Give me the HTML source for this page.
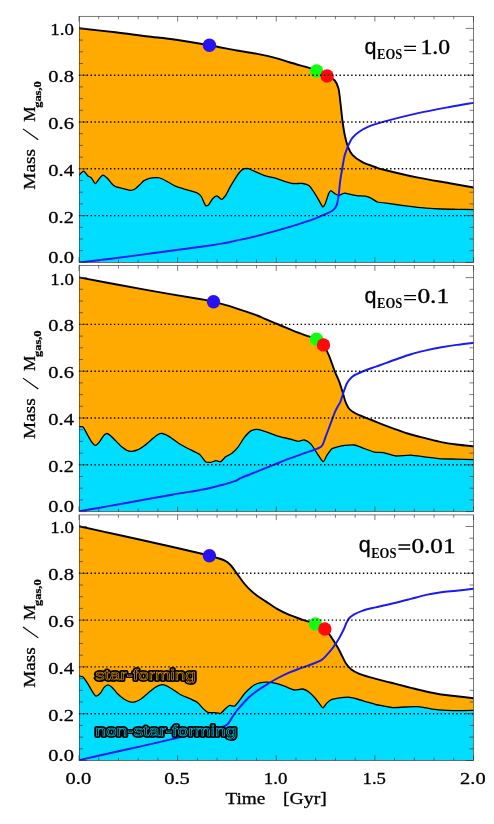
<!DOCTYPE html>
<html><head><meta charset="utf-8"><title>fig</title>
<style>
html,body{margin:0;padding:0;background:#fff;}
body{width:494px;height:824px;position:relative;overflow:hidden;font-family:"Liberation Serif",serif;}
text{font-family:"Liberation Serif",serif;fill:#000;}
.t{font-size:17.4px;stroke:#000;stroke-width:0.3px;}
.sb{font-size:9.8px;font-weight:bold;stroke:#000;stroke-width:0.25px;}
.q{font-size:21.5px;font-family:"Liberation Sans",sans-serif;stroke:#000;stroke-width:0.3px;}
.eos{font-size:14px;font-weight:bold;}
.qn{font-size:21px;stroke:#000;stroke-width:0.35px;}
.rl{font-family:"Liberation Sans",sans-serif;font-size:15.5px;stroke-linejoin:round;stroke-linecap:round;}
</style></head><body>
<svg width="494" height="824" viewBox="0 0 494 824" style="position:absolute;left:0;top:0;will-change:transform">
<rect x="0" y="0" width="494" height="824" fill="#fff"/>
<defs><clipPath id="c0"><rect x="79.00" y="16.30" width="394.50" height="246.10"/></clipPath></defs>
<g clip-path="url(#c0)">
<path d="M79.00 28.30 C85.08 28.97 104.33 30.98 115.50 32.30 C126.67 33.62 135.92 34.97 146.00 36.20 C156.08 37.43 165.43 38.20 176.00 39.70 C186.57 41.20 199.23 43.40 209.40 45.20 C219.57 47.00 229.03 49.05 237.00 50.50 C244.97 51.95 250.87 52.68 257.20 53.90 C263.53 55.12 269.50 56.37 275.00 57.80 C280.50 59.23 284.28 60.75 290.20 62.50 C296.12 64.25 306.10 66.95 310.50 68.30 C314.90 69.65 313.83 69.32 316.60 70.60 C319.37 71.88 324.07 74.35 327.10 76.00 C330.13 77.65 332.90 78.40 334.80 80.50 C336.70 82.60 337.60 85.23 338.50 88.60 C339.40 91.97 339.53 95.30 340.20 100.70 C340.87 106.10 341.73 115.23 342.50 121.00 C343.27 126.77 343.90 131.02 344.80 135.30 C345.70 139.58 346.63 143.45 347.90 146.70 C349.17 149.95 350.05 152.27 352.40 154.80 C354.75 157.33 358.23 159.87 362.00 161.90 C365.77 163.93 371.20 165.65 375.00 167.00 C378.80 168.35 377.80 168.27 384.80 170.00 C391.80 171.73 406.22 175.20 417.00 177.40 C427.78 179.60 440.08 181.52 449.50 183.20 C458.92 184.88 469.50 186.78 473.50 187.50 L473.50 262.40 L79.00 262.40 Z" fill="#FFAA00"/>
<path d="M79.00 175.10 C79.47 174.71 82.80 171.11 83.70 171.20 C84.60 171.29 87.25 175.35 88.00 176.00 C88.75 176.65 90.46 176.95 91.20 177.70 C91.94 178.45 94.59 183.41 95.40 183.50 C96.21 183.59 98.56 179.44 99.30 178.60 C100.04 177.76 101.99 175.13 102.80 175.10 C103.61 175.07 106.52 177.46 107.40 178.30 C108.28 179.14 110.79 182.66 111.60 183.50 C112.41 184.34 114.30 186.18 115.50 186.70 C116.70 187.22 122.08 188.34 123.60 188.70 C125.12 189.06 129.57 190.27 130.70 190.30 C131.83 190.33 133.99 189.55 134.90 189.00 C135.81 188.45 138.92 185.61 139.80 184.80 C140.68 183.99 142.73 181.55 143.70 180.90 C144.67 180.25 148.11 178.62 149.50 178.30 C150.89 177.98 156.31 177.63 157.60 177.70 C158.89 177.77 161.27 178.52 162.40 179.00 C163.53 179.48 167.60 181.79 168.90 182.50 C170.20 183.21 173.78 185.42 175.40 186.10 C177.02 186.78 182.99 188.65 185.10 189.30 C187.21 189.95 194.88 191.88 196.50 192.60 C198.12 193.32 200.40 195.21 201.30 196.50 C202.20 197.79 204.75 204.69 205.50 205.50 C206.25 206.31 208.09 205.28 208.80 204.60 C209.51 203.92 211.79 199.58 212.60 198.70 C213.41 197.82 216.02 195.73 216.90 195.80 C217.78 195.87 220.53 199.43 221.40 199.40 C222.27 199.37 224.75 196.70 225.60 195.50 C226.45 194.30 228.99 189.02 229.90 187.40 C230.81 185.78 233.73 180.82 234.70 179.30 C235.67 177.78 238.69 173.24 239.60 172.20 C240.51 171.16 242.93 169.26 243.80 168.90 C244.67 168.54 247.27 168.37 248.30 168.60 C249.33 168.83 252.55 170.52 254.10 171.20 C255.65 171.88 261.86 174.75 263.80 175.40 C265.74 176.05 271.55 177.15 273.50 177.70 C275.45 178.25 281.35 180.32 283.30 180.90 C285.25 181.48 291.06 183.24 293.00 183.50 C294.94 183.76 301.08 183.27 302.70 183.50 C304.32 183.73 308.07 184.93 309.20 185.80 C310.33 186.67 313.03 190.75 314.00 192.20 C314.97 193.65 318.03 198.84 318.90 200.30 C319.77 201.76 322.06 206.48 322.70 206.80 C323.34 207.12 324.71 204.80 325.30 203.50 C325.89 202.20 328.05 195.09 328.60 193.80 C329.15 192.51 330.16 190.60 330.80 190.60 C331.44 190.60 334.19 193.31 335.00 193.80 C335.81 194.29 337.96 195.57 338.90 195.50 C339.84 195.43 343.17 193.19 344.40 193.10 C345.63 193.01 349.87 194.33 351.20 194.60 C352.53 194.87 356.28 195.64 357.70 195.80 C359.12 195.96 364.02 195.94 365.40 196.20 C366.78 196.46 370.29 197.82 371.50 198.40 C372.71 198.98 375.68 201.48 377.50 202.00 C379.32 202.52 387.27 203.26 389.70 203.60 C392.13 203.94 399.37 205.07 401.80 205.40 C404.23 205.73 411.57 206.63 414.00 206.90 C416.43 207.17 423.37 207.89 426.10 208.10 C428.83 208.31 438.26 208.88 441.30 209.00 C444.34 209.12 453.28 209.24 456.50 209.30 C459.72 209.36 471.80 209.57 473.50 209.60 L473.50 262.40 L79.00 262.40 Z" fill="#00DDFF"/>
</g>
<g clip-path="url(#c0)" fill="none" stroke-linejoin="round" stroke-linecap="round">
<path d="M79.00 175.10 C79.47 174.71 82.80 171.11 83.70 171.20 C84.60 171.29 87.25 175.35 88.00 176.00 C88.75 176.65 90.46 176.95 91.20 177.70 C91.94 178.45 94.59 183.41 95.40 183.50 C96.21 183.59 98.56 179.44 99.30 178.60 C100.04 177.76 101.99 175.13 102.80 175.10 C103.61 175.07 106.52 177.46 107.40 178.30 C108.28 179.14 110.79 182.66 111.60 183.50 C112.41 184.34 114.30 186.18 115.50 186.70 C116.70 187.22 122.08 188.34 123.60 188.70 C125.12 189.06 129.57 190.27 130.70 190.30 C131.83 190.33 133.99 189.55 134.90 189.00 C135.81 188.45 138.92 185.61 139.80 184.80 C140.68 183.99 142.73 181.55 143.70 180.90 C144.67 180.25 148.11 178.62 149.50 178.30 C150.89 177.98 156.31 177.63 157.60 177.70 C158.89 177.77 161.27 178.52 162.40 179.00 C163.53 179.48 167.60 181.79 168.90 182.50 C170.20 183.21 173.78 185.42 175.40 186.10 C177.02 186.78 182.99 188.65 185.10 189.30 C187.21 189.95 194.88 191.88 196.50 192.60 C198.12 193.32 200.40 195.21 201.30 196.50 C202.20 197.79 204.75 204.69 205.50 205.50 C206.25 206.31 208.09 205.28 208.80 204.60 C209.51 203.92 211.79 199.58 212.60 198.70 C213.41 197.82 216.02 195.73 216.90 195.80 C217.78 195.87 220.53 199.43 221.40 199.40 C222.27 199.37 224.75 196.70 225.60 195.50 C226.45 194.30 228.99 189.02 229.90 187.40 C230.81 185.78 233.73 180.82 234.70 179.30 C235.67 177.78 238.69 173.24 239.60 172.20 C240.51 171.16 242.93 169.26 243.80 168.90 C244.67 168.54 247.27 168.37 248.30 168.60 C249.33 168.83 252.55 170.52 254.10 171.20 C255.65 171.88 261.86 174.75 263.80 175.40 C265.74 176.05 271.55 177.15 273.50 177.70 C275.45 178.25 281.35 180.32 283.30 180.90 C285.25 181.48 291.06 183.24 293.00 183.50 C294.94 183.76 301.08 183.27 302.70 183.50 C304.32 183.73 308.07 184.93 309.20 185.80 C310.33 186.67 313.03 190.75 314.00 192.20 C314.97 193.65 318.03 198.84 318.90 200.30 C319.77 201.76 322.06 206.48 322.70 206.80 C323.34 207.12 324.71 204.80 325.30 203.50 C325.89 202.20 328.05 195.09 328.60 193.80 C329.15 192.51 330.16 190.60 330.80 190.60 C331.44 190.60 334.19 193.31 335.00 193.80 C335.81 194.29 337.96 195.57 338.90 195.50 C339.84 195.43 343.17 193.19 344.40 193.10 C345.63 193.01 349.87 194.33 351.20 194.60 C352.53 194.87 356.28 195.64 357.70 195.80 C359.12 195.96 364.02 195.94 365.40 196.20 C366.78 196.46 370.29 197.82 371.50 198.40 C372.71 198.98 375.68 201.48 377.50 202.00 C379.32 202.52 387.27 203.26 389.70 203.60 C392.13 203.94 399.37 205.07 401.80 205.40 C404.23 205.73 411.57 206.63 414.00 206.90 C416.43 207.17 423.37 207.89 426.10 208.10 C428.83 208.31 438.26 208.88 441.30 209.00 C444.34 209.12 453.28 209.24 456.50 209.30 C459.72 209.36 471.80 209.57 473.50 209.60" stroke="#000" stroke-width="1.3"/>
<path d="M79.00 28.30 C85.08 28.97 104.33 30.98 115.50 32.30 C126.67 33.62 135.92 34.97 146.00 36.20 C156.08 37.43 165.43 38.20 176.00 39.70 C186.57 41.20 199.23 43.40 209.40 45.20 C219.57 47.00 229.03 49.05 237.00 50.50 C244.97 51.95 250.87 52.68 257.20 53.90 C263.53 55.12 269.50 56.37 275.00 57.80 C280.50 59.23 284.28 60.75 290.20 62.50 C296.12 64.25 306.10 66.95 310.50 68.30 C314.90 69.65 313.83 69.32 316.60 70.60 C319.37 71.88 324.07 74.35 327.10 76.00 C330.13 77.65 332.90 78.40 334.80 80.50 C336.70 82.60 337.60 85.23 338.50 88.60 C339.40 91.97 339.53 95.30 340.20 100.70 C340.87 106.10 341.73 115.23 342.50 121.00 C343.27 126.77 343.90 131.02 344.80 135.30 C345.70 139.58 346.63 143.45 347.90 146.70 C349.17 149.95 350.05 152.27 352.40 154.80 C354.75 157.33 358.23 159.87 362.00 161.90 C365.77 163.93 371.20 165.65 375.00 167.00 C378.80 168.35 377.80 168.27 384.80 170.00 C391.80 171.73 406.22 175.20 417.00 177.40 C427.78 179.60 440.08 181.52 449.50 183.20 C458.92 184.88 469.50 186.78 473.50 187.50" stroke="#000" stroke-width="1.9"/>
<path d="M79.00 262.50 C83.67 261.95 94.17 260.82 107.00 259.20 C119.83 257.58 139.75 254.95 156.00 252.80 C172.25 250.65 193.00 247.93 204.50 246.30 C216.00 244.67 219.92 243.90 225.00 243.00 C230.08 242.10 229.60 242.08 235.00 240.90 C240.40 239.72 248.27 238.23 257.40 235.90 C266.53 233.57 280.63 229.60 289.80 226.90 C298.97 224.20 306.48 221.82 312.40 219.70 C318.32 217.58 321.80 215.82 325.30 214.20 C328.80 212.58 331.50 211.50 333.40 210.00 C335.30 208.50 335.83 207.62 336.70 205.20 C337.57 202.78 338.02 199.53 338.60 195.50 C339.18 191.47 339.58 185.58 340.20 181.00 C340.82 176.42 341.58 172.17 342.30 168.00 C343.02 163.83 343.88 158.75 344.50 156.00 C345.12 153.25 345.33 153.33 346.00 151.50 C346.67 149.67 347.43 147.27 348.50 145.00 C349.57 142.73 350.68 140.07 352.40 137.90 C354.12 135.73 356.12 133.88 358.80 132.00 C361.48 130.12 364.17 128.37 368.50 126.60 C372.83 124.83 376.72 123.60 384.80 121.40 C392.88 119.20 406.22 115.80 417.00 113.40 C427.78 111.00 440.08 108.75 449.50 107.00 C458.92 105.25 469.50 103.58 473.50 102.90" stroke="#1a1af4" stroke-width="1.95"/>
</g>
<circle cx="209.40" cy="45.20" r="6.7" fill="#2810f0"/>
<circle cx="316.60" cy="71.00" r="6.7" fill="#10ff10"/>
<circle cx="327.10" cy="76.00" r="6.7" fill="#ff0a0a"/>
<line x1="78.90" y1="215.60" x2="473.50" y2="215.60" stroke="#000" stroke-width="1.4" stroke-dasharray="1.4 2.49"/>
<line x1="78.90" y1="168.80" x2="473.50" y2="168.80" stroke="#000" stroke-width="1.4" stroke-dasharray="1.4 2.49"/>
<line x1="78.90" y1="122.00" x2="473.50" y2="122.00" stroke="#000" stroke-width="1.4" stroke-dasharray="1.4 2.49"/>
<line x1="78.90" y1="75.20" x2="473.50" y2="75.20" stroke="#000" stroke-width="1.4" stroke-dasharray="1.4 2.49"/>
<rect x="79.30" y="16.30" width="394.20" height="246.10" fill="none" stroke="#333" stroke-width="0.65"/>
<path d="M79.00 16.30 v5.20 M79.00 262.40 v-5.20 M98.72 16.30 v2.90 M98.72 262.40 v-2.90 M118.45 16.30 v2.90 M118.45 262.40 v-2.90 M138.18 16.30 v2.90 M138.18 262.40 v-2.90 M157.90 16.30 v2.90 M157.90 262.40 v-2.90 M177.62 16.30 v5.20 M177.62 262.40 v-5.20 M197.35 16.30 v2.90 M197.35 262.40 v-2.90 M217.07 16.30 v2.90 M217.07 262.40 v-2.90 M236.80 16.30 v2.90 M236.80 262.40 v-2.90 M256.52 16.30 v2.90 M256.52 262.40 v-2.90 M276.25 16.30 v5.20 M276.25 262.40 v-5.20 M295.98 16.30 v2.90 M295.98 262.40 v-2.90 M315.70 16.30 v2.90 M315.70 262.40 v-2.90 M335.43 16.30 v2.90 M335.43 262.40 v-2.90 M355.15 16.30 v2.90 M355.15 262.40 v-2.90 M374.88 16.30 v5.20 M374.88 262.40 v-5.20 M394.60 16.30 v2.90 M394.60 262.40 v-2.90 M414.32 16.30 v2.90 M414.32 262.40 v-2.90 M434.05 16.30 v2.90 M434.05 262.40 v-2.90 M453.77 16.30 v2.90 M453.77 262.40 v-2.90 M473.50 16.30 v5.20 M473.50 262.40 v-5.20 M79.00 262.40 h7.90 M473.50 262.40 h-7.90 M79.00 250.70 h4.00 M473.50 250.70 h-4.00 M79.00 239.00 h4.00 M473.50 239.00 h-4.00 M79.00 227.30 h4.00 M473.50 227.30 h-4.00 M79.00 215.60 h7.90 M473.50 215.60 h-7.90 M79.00 203.90 h4.00 M473.50 203.90 h-4.00 M79.00 192.20 h4.00 M473.50 192.20 h-4.00 M79.00 180.50 h4.00 M473.50 180.50 h-4.00 M79.00 168.80 h7.90 M473.50 168.80 h-7.90 M79.00 157.10 h4.00 M473.50 157.10 h-4.00 M79.00 145.40 h4.00 M473.50 145.40 h-4.00 M79.00 133.70 h4.00 M473.50 133.70 h-4.00 M79.00 122.00 h7.90 M473.50 122.00 h-7.90 M79.00 110.30 h4.00 M473.50 110.30 h-4.00 M79.00 98.60 h4.00 M473.50 98.60 h-4.00 M79.00 86.90 h4.00 M473.50 86.90 h-4.00 M79.00 75.20 h7.90 M473.50 75.20 h-7.90 M79.00 63.50 h4.00 M473.50 63.50 h-4.00 M79.00 51.80 h4.00 M473.50 51.80 h-4.00 M79.00 40.10 h4.00 M473.50 40.10 h-4.00 M79.00 28.40 h7.90 M473.50 28.40 h-7.90" stroke="#333" stroke-width="0.65" fill="none"/>
<text x="48.30" y="262.70" textLength="25.6" lengthAdjust="spacingAndGlyphs" class="t">0.0</text>
<text x="48.30" y="222.50" textLength="25.6" lengthAdjust="spacingAndGlyphs" class="t">0.2</text>
<text x="48.30" y="175.70" textLength="25.6" lengthAdjust="spacingAndGlyphs" class="t">0.4</text>
<text x="48.30" y="128.90" textLength="25.6" lengthAdjust="spacingAndGlyphs" class="t">0.6</text>
<text x="48.30" y="82.10" textLength="25.6" lengthAdjust="spacingAndGlyphs" class="t">0.8</text>
<text x="50.30" y="35.30" textLength="23.6" lengthAdjust="spacingAndGlyphs" class="t">1.0</text>
<g transform="translate(35,189.40) rotate(-90)">
<text x="-0.3" y="0" class="t" textLength="40.6" lengthAdjust="spacingAndGlyphs">Mass</text>
<line x1="49.6" y1="3.3" x2="60.5" y2="-12" stroke="#000" stroke-width="1.15"/>
<text x="67.6" y="0" class="t" textLength="15.2" lengthAdjust="spacingAndGlyphs">M</text>
<text x="81.6" y="5.6" class="sb" textLength="26.6" lengthAdjust="spacingAndGlyphs">gas,0</text>
</g>
<text x="364.60" y="53.80" class="q">q</text>
<text x="377.00" y="59.00" class="eos" textLength="25.3" lengthAdjust="spacingAndGlyphs">EOS</text>
<path d="M404.20 46.40 h11.8 M404.20 50.40 h11.8" stroke="#000" stroke-width="1.3" fill="none"/>
<text x="420.40" y="54.10" class="qn" textLength="29.6" lengthAdjust="spacingAndGlyphs">1.0</text>
<defs><clipPath id="c1"><rect x="79.00" y="265.60" width="394.50" height="246.00"/></clipPath></defs>
<g clip-path="url(#c1)">
<path d="M79.00 277.40 C85.08 278.55 102.67 281.93 115.50 284.30 C128.33 286.67 142.50 289.23 156.00 291.60 C169.50 293.97 186.92 296.82 196.50 298.50 C206.08 300.18 206.75 300.02 213.50 301.70 C220.25 303.38 229.72 306.30 237.00 308.60 C244.28 310.90 252.53 313.78 257.20 315.50 C261.87 317.22 261.27 317.32 265.00 318.90 C268.73 320.48 274.75 322.97 279.60 325.00 C284.45 327.03 289.25 329.20 294.10 331.10 C298.95 333.00 304.97 335.03 308.70 336.40 C312.43 337.77 314.03 337.88 316.50 339.30 C318.97 340.72 321.48 342.33 323.50 344.90 C325.52 347.47 327.22 351.65 328.60 354.70 C329.98 357.75 330.67 360.17 331.80 363.20 C332.93 366.23 334.18 369.87 335.40 372.90 C336.62 375.93 337.88 378.17 339.10 381.40 C340.32 384.63 341.55 388.67 342.70 392.30 C343.85 395.93 344.78 400.32 346.00 403.20 C347.22 406.08 347.78 407.60 350.00 409.60 C352.22 411.60 355.72 413.47 359.30 415.20 C362.88 416.93 367.45 418.40 371.50 420.00 C375.55 421.60 379.57 423.25 383.60 424.80 C387.63 426.35 391.15 427.68 395.70 429.30 C400.25 430.92 405.83 432.98 410.90 434.50 C415.97 436.02 421.03 437.13 426.10 438.40 C431.17 439.67 436.23 441.08 441.30 442.10 C446.37 443.12 451.13 443.80 456.50 444.50 C461.87 445.20 470.67 446.00 473.50 446.30 L473.50 511.60 L79.00 511.60 Z" fill="#FFAA00"/>
<path d="M79.00 426.70 C79.41 426.73 82.20 426.09 83.10 427.00 C84.00 427.91 87.13 434.28 88.00 435.80 C88.87 437.32 91.06 441.23 91.80 442.20 C92.54 443.17 94.65 445.50 95.40 445.50 C96.15 445.50 98.49 443.17 99.30 442.20 C100.11 441.23 102.76 436.67 103.50 435.80 C104.24 434.93 105.99 433.50 106.70 433.50 C107.41 433.50 109.72 435.09 110.60 435.80 C111.48 436.51 114.36 439.47 115.50 440.60 C116.64 441.73 120.87 446.13 122.00 447.10 C123.13 448.07 125.83 449.88 126.80 450.30 C127.77 450.72 130.57 451.36 131.70 451.30 C132.83 451.24 136.81 450.28 138.10 449.70 C139.39 449.12 143.30 446.47 144.60 445.50 C145.90 444.53 149.80 441.07 151.10 440.00 C152.40 438.93 156.47 435.45 157.60 434.80 C158.73 434.15 161.27 433.34 162.40 433.50 C163.53 433.66 167.28 435.43 168.90 436.40 C170.52 437.37 176.65 441.97 178.60 443.20 C180.55 444.43 186.29 447.57 188.40 448.70 C190.51 449.83 197.99 453.20 199.70 454.50 C201.41 455.80 204.37 460.92 205.50 461.70 C206.63 462.48 209.96 462.40 211.00 462.30 C212.04 462.20 214.93 460.76 215.90 460.70 C216.87 460.64 219.73 462.09 220.70 461.70 C221.67 461.31 224.52 457.61 225.60 456.80 C226.68 455.99 230.26 454.57 231.50 453.60 C232.74 452.63 236.71 448.72 238.00 447.10 C239.29 445.48 243.11 439.02 244.40 437.40 C245.69 435.78 249.60 431.71 250.90 430.90 C252.20 430.09 255.94 429.23 257.40 429.30 C258.86 429.37 263.56 430.95 265.50 431.60 C267.44 432.25 274.37 435.06 276.80 435.80 C279.23 436.54 287.69 438.45 289.80 439.00 C291.91 439.55 296.44 441.20 297.90 441.30 C299.36 441.40 303.11 439.74 304.40 440.00 C305.69 440.26 309.51 442.54 310.80 443.90 C312.09 445.26 316.07 451.82 317.30 453.60 C318.53 455.38 322.13 461.54 323.10 461.70 C324.07 461.86 326.12 456.50 327.00 455.20 C327.88 453.90 330.93 449.51 331.90 448.70 C332.87 447.89 335.41 447.43 336.70 447.10 C337.99 446.77 343.02 445.61 344.80 445.40 C346.58 445.19 352.75 444.76 354.50 445.00 C356.25 445.24 360.32 447.09 362.30 447.80 C364.28 448.51 372.17 451.61 374.30 452.10 C376.43 452.59 381.46 452.31 383.60 452.70 C385.74 453.09 392.97 455.76 395.70 456.00 C398.43 456.24 407.86 454.98 410.90 455.10 C413.94 455.22 423.06 456.83 426.10 457.20 C429.14 457.57 438.26 458.61 441.30 458.80 C444.34 458.99 453.28 459.01 456.50 459.10 C459.72 459.19 471.80 459.64 473.50 459.70 L473.50 511.60 L79.00 511.60 Z" fill="#00DDFF"/>
</g>
<g clip-path="url(#c1)" fill="none" stroke-linejoin="round" stroke-linecap="round">
<path d="M79.00 426.70 C79.41 426.73 82.20 426.09 83.10 427.00 C84.00 427.91 87.13 434.28 88.00 435.80 C88.87 437.32 91.06 441.23 91.80 442.20 C92.54 443.17 94.65 445.50 95.40 445.50 C96.15 445.50 98.49 443.17 99.30 442.20 C100.11 441.23 102.76 436.67 103.50 435.80 C104.24 434.93 105.99 433.50 106.70 433.50 C107.41 433.50 109.72 435.09 110.60 435.80 C111.48 436.51 114.36 439.47 115.50 440.60 C116.64 441.73 120.87 446.13 122.00 447.10 C123.13 448.07 125.83 449.88 126.80 450.30 C127.77 450.72 130.57 451.36 131.70 451.30 C132.83 451.24 136.81 450.28 138.10 449.70 C139.39 449.12 143.30 446.47 144.60 445.50 C145.90 444.53 149.80 441.07 151.10 440.00 C152.40 438.93 156.47 435.45 157.60 434.80 C158.73 434.15 161.27 433.34 162.40 433.50 C163.53 433.66 167.28 435.43 168.90 436.40 C170.52 437.37 176.65 441.97 178.60 443.20 C180.55 444.43 186.29 447.57 188.40 448.70 C190.51 449.83 197.99 453.20 199.70 454.50 C201.41 455.80 204.37 460.92 205.50 461.70 C206.63 462.48 209.96 462.40 211.00 462.30 C212.04 462.20 214.93 460.76 215.90 460.70 C216.87 460.64 219.73 462.09 220.70 461.70 C221.67 461.31 224.52 457.61 225.60 456.80 C226.68 455.99 230.26 454.57 231.50 453.60 C232.74 452.63 236.71 448.72 238.00 447.10 C239.29 445.48 243.11 439.02 244.40 437.40 C245.69 435.78 249.60 431.71 250.90 430.90 C252.20 430.09 255.94 429.23 257.40 429.30 C258.86 429.37 263.56 430.95 265.50 431.60 C267.44 432.25 274.37 435.06 276.80 435.80 C279.23 436.54 287.69 438.45 289.80 439.00 C291.91 439.55 296.44 441.20 297.90 441.30 C299.36 441.40 303.11 439.74 304.40 440.00 C305.69 440.26 309.51 442.54 310.80 443.90 C312.09 445.26 316.07 451.82 317.30 453.60 C318.53 455.38 322.13 461.54 323.10 461.70 C324.07 461.86 326.12 456.50 327.00 455.20 C327.88 453.90 330.93 449.51 331.90 448.70 C332.87 447.89 335.41 447.43 336.70 447.10 C337.99 446.77 343.02 445.61 344.80 445.40 C346.58 445.19 352.75 444.76 354.50 445.00 C356.25 445.24 360.32 447.09 362.30 447.80 C364.28 448.51 372.17 451.61 374.30 452.10 C376.43 452.59 381.46 452.31 383.60 452.70 C385.74 453.09 392.97 455.76 395.70 456.00 C398.43 456.24 407.86 454.98 410.90 455.10 C413.94 455.22 423.06 456.83 426.10 457.20 C429.14 457.57 438.26 458.61 441.30 458.80 C444.34 458.99 453.28 459.01 456.50 459.10 C459.72 459.19 471.80 459.64 473.50 459.70" stroke="#000" stroke-width="1.3"/>
<path d="M79.00 277.40 C85.08 278.55 102.67 281.93 115.50 284.30 C128.33 286.67 142.50 289.23 156.00 291.60 C169.50 293.97 186.92 296.82 196.50 298.50 C206.08 300.18 206.75 300.02 213.50 301.70 C220.25 303.38 229.72 306.30 237.00 308.60 C244.28 310.90 252.53 313.78 257.20 315.50 C261.87 317.22 261.27 317.32 265.00 318.90 C268.73 320.48 274.75 322.97 279.60 325.00 C284.45 327.03 289.25 329.20 294.10 331.10 C298.95 333.00 304.97 335.03 308.70 336.40 C312.43 337.77 314.03 337.88 316.50 339.30 C318.97 340.72 321.48 342.33 323.50 344.90 C325.52 347.47 327.22 351.65 328.60 354.70 C329.98 357.75 330.67 360.17 331.80 363.20 C332.93 366.23 334.18 369.87 335.40 372.90 C336.62 375.93 337.88 378.17 339.10 381.40 C340.32 384.63 341.55 388.67 342.70 392.30 C343.85 395.93 344.78 400.32 346.00 403.20 C347.22 406.08 347.78 407.60 350.00 409.60 C352.22 411.60 355.72 413.47 359.30 415.20 C362.88 416.93 367.45 418.40 371.50 420.00 C375.55 421.60 379.57 423.25 383.60 424.80 C387.63 426.35 391.15 427.68 395.70 429.30 C400.25 430.92 405.83 432.98 410.90 434.50 C415.97 436.02 421.03 437.13 426.10 438.40 C431.17 439.67 436.23 441.08 441.30 442.10 C446.37 443.12 451.13 443.80 456.50 444.50 C461.87 445.20 470.67 446.00 473.50 446.30" stroke="#000" stroke-width="1.9"/>
<path d="M79.00 511.20 C83.73 510.40 97.27 508.18 107.40 506.40 C117.53 504.62 129.00 502.45 139.80 500.50 C150.60 498.55 161.42 496.58 172.20 494.70 C182.98 492.82 196.42 490.77 204.50 489.20 C212.58 487.63 215.62 486.65 220.70 485.30 C225.78 483.95 231.58 482.33 235.00 481.10 C238.42 479.87 237.47 479.52 241.20 477.90 C244.93 476.28 252.00 473.57 257.40 471.40 C262.80 469.23 268.20 467.07 273.60 464.90 C279.00 462.73 284.40 460.45 289.80 458.40 C295.20 456.35 301.42 454.22 306.00 452.60 C310.58 450.98 314.60 449.88 317.30 448.70 C320.00 447.52 320.85 447.38 322.20 445.50 C323.55 443.62 324.05 440.92 325.40 437.40 C326.75 433.88 328.78 428.45 330.30 424.40 C331.82 420.35 333.22 416.17 334.50 413.10 C335.78 410.03 337.03 407.85 338.00 406.00 C338.97 404.15 339.43 404.12 340.30 402.00 C341.17 399.88 342.15 396.30 343.20 393.30 C344.25 390.30 345.55 386.28 346.60 384.00 C347.65 381.72 348.35 380.97 349.50 379.60 C350.65 378.23 351.38 377.12 353.50 375.80 C355.62 374.48 359.13 373.00 362.20 371.70 C365.27 370.40 368.83 369.12 371.90 368.00 C374.97 366.88 376.63 366.42 380.60 365.00 C384.57 363.58 390.65 361.28 395.70 359.50 C400.75 357.72 405.83 355.82 410.90 354.30 C415.97 352.78 421.03 351.57 426.10 350.40 C431.17 349.23 436.23 348.22 441.30 347.30 C446.37 346.38 451.13 345.65 456.50 344.90 C461.87 344.15 470.67 343.15 473.50 342.80" stroke="#1a1af4" stroke-width="1.95"/>
</g>
<circle cx="213.50" cy="301.70" r="6.7" fill="#2810f0"/>
<circle cx="316.50" cy="339.30" r="6.7" fill="#10ff10"/>
<circle cx="323.50" cy="344.90" r="6.7" fill="#ff0a0a"/>
<line x1="78.90" y1="464.80" x2="473.50" y2="464.80" stroke="#000" stroke-width="1.4" stroke-dasharray="1.4 2.49"/>
<line x1="78.90" y1="418.00" x2="473.50" y2="418.00" stroke="#000" stroke-width="1.4" stroke-dasharray="1.4 2.49"/>
<line x1="78.90" y1="371.20" x2="473.50" y2="371.20" stroke="#000" stroke-width="1.4" stroke-dasharray="1.4 2.49"/>
<line x1="78.90" y1="324.40" x2="473.50" y2="324.40" stroke="#000" stroke-width="1.4" stroke-dasharray="1.4 2.49"/>
<rect x="79.30" y="265.60" width="394.20" height="246.00" fill="none" stroke="#333" stroke-width="0.65"/>
<path d="M79.00 265.60 v5.20 M79.00 511.60 v-5.20 M98.72 265.60 v2.90 M98.72 511.60 v-2.90 M118.45 265.60 v2.90 M118.45 511.60 v-2.90 M138.18 265.60 v2.90 M138.18 511.60 v-2.90 M157.90 265.60 v2.90 M157.90 511.60 v-2.90 M177.62 265.60 v5.20 M177.62 511.60 v-5.20 M197.35 265.60 v2.90 M197.35 511.60 v-2.90 M217.07 265.60 v2.90 M217.07 511.60 v-2.90 M236.80 265.60 v2.90 M236.80 511.60 v-2.90 M256.52 265.60 v2.90 M256.52 511.60 v-2.90 M276.25 265.60 v5.20 M276.25 511.60 v-5.20 M295.98 265.60 v2.90 M295.98 511.60 v-2.90 M315.70 265.60 v2.90 M315.70 511.60 v-2.90 M335.43 265.60 v2.90 M335.43 511.60 v-2.90 M355.15 265.60 v2.90 M355.15 511.60 v-2.90 M374.88 265.60 v5.20 M374.88 511.60 v-5.20 M394.60 265.60 v2.90 M394.60 511.60 v-2.90 M414.32 265.60 v2.90 M414.32 511.60 v-2.90 M434.05 265.60 v2.90 M434.05 511.60 v-2.90 M453.77 265.60 v2.90 M453.77 511.60 v-2.90 M473.50 265.60 v5.20 M473.50 511.60 v-5.20 M79.00 511.60 h7.90 M473.50 511.60 h-7.90 M79.00 499.90 h4.00 M473.50 499.90 h-4.00 M79.00 488.20 h4.00 M473.50 488.20 h-4.00 M79.00 476.50 h4.00 M473.50 476.50 h-4.00 M79.00 464.80 h7.90 M473.50 464.80 h-7.90 M79.00 453.10 h4.00 M473.50 453.10 h-4.00 M79.00 441.40 h4.00 M473.50 441.40 h-4.00 M79.00 429.70 h4.00 M473.50 429.70 h-4.00 M79.00 418.00 h7.90 M473.50 418.00 h-7.90 M79.00 406.30 h4.00 M473.50 406.30 h-4.00 M79.00 394.60 h4.00 M473.50 394.60 h-4.00 M79.00 382.90 h4.00 M473.50 382.90 h-4.00 M79.00 371.20 h7.90 M473.50 371.20 h-7.90 M79.00 359.50 h4.00 M473.50 359.50 h-4.00 M79.00 347.80 h4.00 M473.50 347.80 h-4.00 M79.00 336.10 h4.00 M473.50 336.10 h-4.00 M79.00 324.40 h7.90 M473.50 324.40 h-7.90 M79.00 312.70 h4.00 M473.50 312.70 h-4.00 M79.00 301.00 h4.00 M473.50 301.00 h-4.00 M79.00 289.30 h4.00 M473.50 289.30 h-4.00 M79.00 277.60 h7.90 M473.50 277.60 h-7.90" stroke="#333" stroke-width="0.65" fill="none"/>
<text x="48.30" y="511.90" textLength="25.6" lengthAdjust="spacingAndGlyphs" class="t">0.0</text>
<text x="48.30" y="471.70" textLength="25.6" lengthAdjust="spacingAndGlyphs" class="t">0.2</text>
<text x="48.30" y="424.90" textLength="25.6" lengthAdjust="spacingAndGlyphs" class="t">0.4</text>
<text x="48.30" y="378.10" textLength="25.6" lengthAdjust="spacingAndGlyphs" class="t">0.6</text>
<text x="48.30" y="331.30" textLength="25.6" lengthAdjust="spacingAndGlyphs" class="t">0.8</text>
<text x="50.30" y="284.50" textLength="23.6" lengthAdjust="spacingAndGlyphs" class="t">1.0</text>
<g transform="translate(35,438.60) rotate(-90)">
<text x="-0.3" y="0" class="t" textLength="40.6" lengthAdjust="spacingAndGlyphs">Mass</text>
<line x1="49.6" y1="3.3" x2="60.5" y2="-12" stroke="#000" stroke-width="1.15"/>
<text x="67.6" y="0" class="t" textLength="15.2" lengthAdjust="spacingAndGlyphs">M</text>
<text x="81.6" y="5.6" class="sb" textLength="26.6" lengthAdjust="spacingAndGlyphs">gas,0</text>
</g>
<text x="364.60" y="303.10" class="q">q</text>
<text x="377.00" y="308.30" class="eos" textLength="25.3" lengthAdjust="spacingAndGlyphs">EOS</text>
<path d="M404.20 295.70 h11.8 M404.20 299.70 h11.8" stroke="#000" stroke-width="1.3" fill="none"/>
<text x="417.40" y="303.40" class="qn" textLength="31.8" lengthAdjust="spacingAndGlyphs">0.1</text>
<defs><clipPath id="c2"><rect x="79.00" y="514.90" width="394.50" height="245.60"/></clipPath></defs>
<g clip-path="url(#c2)">
<path d="M79.00 526.20 C85.08 527.55 102.67 531.47 115.50 534.30 C128.33 537.13 142.50 540.17 156.00 543.20 C169.50 546.23 187.60 550.42 196.50 552.50 C205.40 554.58 204.68 554.35 209.40 555.70 C214.12 557.05 221.22 558.97 224.80 560.60 C228.38 562.23 228.87 563.33 230.90 565.50 C232.93 567.67 234.98 570.85 237.00 573.60 C239.02 576.35 240.98 579.45 243.00 582.00 C245.02 584.55 246.73 586.60 249.10 588.90 C251.47 591.20 254.50 593.77 257.20 595.80 C259.90 597.83 261.98 598.92 265.30 601.10 C268.62 603.28 273.10 606.60 277.10 608.90 C281.10 611.20 285.25 613.17 289.30 614.90 C293.35 616.63 297.03 617.80 301.40 619.30 C305.77 620.80 311.60 622.28 315.50 623.90 C319.40 625.52 322.08 626.65 324.80 629.00 C327.52 631.35 329.62 634.88 331.80 638.00 C333.98 641.12 336.15 644.63 337.90 647.70 C339.65 650.77 340.95 653.77 342.30 656.40 C343.65 659.03 344.55 661.37 346.00 663.50 C347.45 665.63 348.78 667.48 351.00 669.20 C353.22 670.92 355.88 672.40 359.30 673.80 C362.72 675.20 367.45 676.42 371.50 677.60 C375.55 678.78 379.57 679.85 383.60 680.90 C387.63 681.95 391.15 682.75 395.70 683.90 C400.25 685.05 405.83 686.53 410.90 687.80 C415.97 689.07 421.03 690.38 426.10 691.50 C431.17 692.62 436.23 693.70 441.30 694.50 C446.37 695.30 451.13 695.68 456.50 696.30 C461.87 696.92 470.67 697.88 473.50 698.20 L473.50 760.50 L79.00 760.50 Z" fill="#FFAA00"/>
<path d="M79.00 676.00 C79.41 676.10 82.20 676.19 83.10 677.00 C84.00 677.81 87.03 682.58 88.00 684.10 C88.97 685.62 92.00 691.00 92.80 692.20 C93.60 693.40 95.25 696.00 96.00 696.10 C96.75 696.20 99.49 694.07 100.30 693.20 C101.11 692.33 103.33 688.24 104.10 687.40 C104.87 686.56 107.19 684.80 108.00 684.80 C108.81 684.80 111.29 686.56 112.20 687.40 C113.11 688.24 115.96 692.07 117.10 693.20 C118.24 694.33 122.31 697.83 123.60 698.70 C124.89 699.57 128.87 701.58 130.00 701.90 C131.13 702.22 133.76 702.22 134.90 701.90 C136.04 701.58 140.11 699.57 141.40 698.70 C142.69 697.83 146.51 694.27 147.80 693.20 C149.09 692.13 153.10 688.81 154.30 688.00 C155.50 687.19 158.73 685.39 159.80 685.10 C160.87 684.81 163.77 684.71 165.00 685.10 C166.23 685.49 170.58 688.06 172.10 689.00 C173.62 689.94 178.41 693.53 180.20 694.50 C181.99 695.47 188.22 697.86 190.00 698.70 C191.78 699.54 196.71 701.93 198.00 702.90 C199.29 703.87 201.92 707.46 202.90 708.40 C203.88 709.34 206.67 711.88 207.80 712.30 C208.93 712.72 212.91 712.50 214.20 712.60 C215.49 712.70 219.56 713.72 220.70 713.30 C221.84 712.88 224.68 709.19 225.60 708.40 C226.52 707.61 228.99 705.63 229.90 705.40 C230.81 705.17 233.73 706.61 234.70 706.10 C235.67 705.59 238.63 701.53 239.60 700.30 C240.57 699.07 243.27 695.09 244.40 693.80 C245.53 692.51 249.60 688.43 250.90 687.40 C252.20 686.37 255.94 684.02 257.40 683.50 C258.86 682.98 263.88 682.27 265.50 682.20 C267.12 682.13 271.98 682.51 273.60 682.80 C275.22 683.09 280.08 684.55 281.70 685.10 C283.32 685.65 288.51 687.81 289.80 688.30 C291.09 688.79 293.31 689.93 294.60 690.00 C295.89 690.07 301.24 688.78 302.70 689.00 C304.16 689.22 307.90 691.23 309.20 692.20 C310.50 693.17 314.57 697.40 315.70 698.70 C316.83 700.00 319.76 704.29 320.50 705.20 C321.24 706.11 322.45 708.03 323.10 707.80 C323.75 707.57 326.12 703.74 327.00 702.90 C327.88 702.06 330.77 699.88 331.90 699.40 C333.03 698.92 336.65 698.32 338.30 698.10 C339.95 697.88 346.53 697.11 348.40 697.20 C350.27 697.29 355.20 698.54 357.00 699.00 C358.80 699.46 364.55 701.25 366.40 701.80 C368.25 702.35 373.78 704.08 375.50 704.50 C377.22 704.92 381.88 705.69 383.60 706.00 C385.32 706.31 390.57 707.50 392.70 707.60 C394.83 707.70 402.47 707.09 404.90 707.00 C407.33 706.91 415.18 706.67 417.00 706.70 C418.82 706.73 421.58 707.06 423.10 707.30 C424.62 707.54 429.77 708.80 432.20 709.10 C434.63 709.40 444.67 710.15 447.40 710.30 C450.13 710.45 456.89 710.60 459.50 710.60 C462.11 710.60 472.10 710.33 473.50 710.30 L473.50 760.50 L79.00 760.50 Z" fill="#00DDFF"/>
</g>
<g clip-path="url(#c2)" fill="none" stroke-linejoin="round" stroke-linecap="round">
<path d="M79.00 676.00 C79.41 676.10 82.20 676.19 83.10 677.00 C84.00 677.81 87.03 682.58 88.00 684.10 C88.97 685.62 92.00 691.00 92.80 692.20 C93.60 693.40 95.25 696.00 96.00 696.10 C96.75 696.20 99.49 694.07 100.30 693.20 C101.11 692.33 103.33 688.24 104.10 687.40 C104.87 686.56 107.19 684.80 108.00 684.80 C108.81 684.80 111.29 686.56 112.20 687.40 C113.11 688.24 115.96 692.07 117.10 693.20 C118.24 694.33 122.31 697.83 123.60 698.70 C124.89 699.57 128.87 701.58 130.00 701.90 C131.13 702.22 133.76 702.22 134.90 701.90 C136.04 701.58 140.11 699.57 141.40 698.70 C142.69 697.83 146.51 694.27 147.80 693.20 C149.09 692.13 153.10 688.81 154.30 688.00 C155.50 687.19 158.73 685.39 159.80 685.10 C160.87 684.81 163.77 684.71 165.00 685.10 C166.23 685.49 170.58 688.06 172.10 689.00 C173.62 689.94 178.41 693.53 180.20 694.50 C181.99 695.47 188.22 697.86 190.00 698.70 C191.78 699.54 196.71 701.93 198.00 702.90 C199.29 703.87 201.92 707.46 202.90 708.40 C203.88 709.34 206.67 711.88 207.80 712.30 C208.93 712.72 212.91 712.50 214.20 712.60 C215.49 712.70 219.56 713.72 220.70 713.30 C221.84 712.88 224.68 709.19 225.60 708.40 C226.52 707.61 228.99 705.63 229.90 705.40 C230.81 705.17 233.73 706.61 234.70 706.10 C235.67 705.59 238.63 701.53 239.60 700.30 C240.57 699.07 243.27 695.09 244.40 693.80 C245.53 692.51 249.60 688.43 250.90 687.40 C252.20 686.37 255.94 684.02 257.40 683.50 C258.86 682.98 263.88 682.27 265.50 682.20 C267.12 682.13 271.98 682.51 273.60 682.80 C275.22 683.09 280.08 684.55 281.70 685.10 C283.32 685.65 288.51 687.81 289.80 688.30 C291.09 688.79 293.31 689.93 294.60 690.00 C295.89 690.07 301.24 688.78 302.70 689.00 C304.16 689.22 307.90 691.23 309.20 692.20 C310.50 693.17 314.57 697.40 315.70 698.70 C316.83 700.00 319.76 704.29 320.50 705.20 C321.24 706.11 322.45 708.03 323.10 707.80 C323.75 707.57 326.12 703.74 327.00 702.90 C327.88 702.06 330.77 699.88 331.90 699.40 C333.03 698.92 336.65 698.32 338.30 698.10 C339.95 697.88 346.53 697.11 348.40 697.20 C350.27 697.29 355.20 698.54 357.00 699.00 C358.80 699.46 364.55 701.25 366.40 701.80 C368.25 702.35 373.78 704.08 375.50 704.50 C377.22 704.92 381.88 705.69 383.60 706.00 C385.32 706.31 390.57 707.50 392.70 707.60 C394.83 707.70 402.47 707.09 404.90 707.00 C407.33 706.91 415.18 706.67 417.00 706.70 C418.82 706.73 421.58 707.06 423.10 707.30 C424.62 707.54 429.77 708.80 432.20 709.10 C434.63 709.40 444.67 710.15 447.40 710.30 C450.13 710.45 456.89 710.60 459.50 710.60 C462.11 710.60 472.10 710.33 473.50 710.30" stroke="#000" stroke-width="1.3"/>
<path d="M79.00 526.20 C85.08 527.55 102.67 531.47 115.50 534.30 C128.33 537.13 142.50 540.17 156.00 543.20 C169.50 546.23 187.60 550.42 196.50 552.50 C205.40 554.58 204.68 554.35 209.40 555.70 C214.12 557.05 221.22 558.97 224.80 560.60 C228.38 562.23 228.87 563.33 230.90 565.50 C232.93 567.67 234.98 570.85 237.00 573.60 C239.02 576.35 240.98 579.45 243.00 582.00 C245.02 584.55 246.73 586.60 249.10 588.90 C251.47 591.20 254.50 593.77 257.20 595.80 C259.90 597.83 261.98 598.92 265.30 601.10 C268.62 603.28 273.10 606.60 277.10 608.90 C281.10 611.20 285.25 613.17 289.30 614.90 C293.35 616.63 297.03 617.80 301.40 619.30 C305.77 620.80 311.60 622.28 315.50 623.90 C319.40 625.52 322.08 626.65 324.80 629.00 C327.52 631.35 329.62 634.88 331.80 638.00 C333.98 641.12 336.15 644.63 337.90 647.70 C339.65 650.77 340.95 653.77 342.30 656.40 C343.65 659.03 344.55 661.37 346.00 663.50 C347.45 665.63 348.78 667.48 351.00 669.20 C353.22 670.92 355.88 672.40 359.30 673.80 C362.72 675.20 367.45 676.42 371.50 677.60 C375.55 678.78 379.57 679.85 383.60 680.90 C387.63 681.95 391.15 682.75 395.70 683.90 C400.25 685.05 405.83 686.53 410.90 687.80 C415.97 689.07 421.03 690.38 426.10 691.50 C431.17 692.62 436.23 693.70 441.30 694.50 C446.37 695.30 451.13 695.68 456.50 696.30 C461.87 696.92 470.67 697.88 473.50 698.20" stroke="#000" stroke-width="1.9"/>
<path d="M79.00 760.20 C83.73 759.12 97.27 755.97 107.40 753.70 C117.53 751.43 129.02 749.03 139.80 746.60 C150.58 744.17 161.32 741.53 172.10 739.10 C182.88 736.67 196.40 733.88 204.50 732.00 C212.60 730.12 216.92 729.03 220.70 727.80 C224.48 726.57 225.37 726.22 227.20 724.60 C229.03 722.98 230.15 720.37 231.70 718.10 C233.25 715.83 234.38 713.68 236.50 711.00 C238.62 708.32 242.00 704.58 244.40 702.00 C246.80 699.42 248.73 697.40 250.90 695.50 C253.07 693.60 254.70 692.47 257.40 690.60 C260.10 688.73 263.83 686.32 267.10 684.30 C270.37 682.28 273.25 680.48 277.00 678.50 C280.75 676.52 285.53 674.17 289.60 672.40 C293.67 670.63 297.40 669.38 301.40 667.90 C305.40 666.42 310.35 664.75 313.60 663.50 C316.85 662.25 318.88 661.62 320.90 660.40 C322.92 659.18 323.68 658.32 325.70 656.20 C327.72 654.08 330.78 650.65 333.00 647.70 C335.22 644.75 337.18 641.62 339.00 638.50 C340.82 635.38 342.67 631.58 343.90 629.00 C345.13 626.42 345.50 624.83 346.40 623.00 C347.30 621.17 348.00 619.45 349.30 618.00 C350.60 616.55 352.05 615.50 354.20 614.30 C356.35 613.10 358.85 611.92 362.20 610.80 C365.55 609.68 370.50 608.53 374.30 607.60 C378.10 606.67 381.43 606.00 385.00 605.20 C388.57 604.40 391.38 603.85 395.70 602.80 C400.02 601.75 405.83 600.22 410.90 598.90 C415.97 597.58 421.03 596.02 426.10 594.90 C431.17 593.78 436.23 592.90 441.30 592.20 C446.37 591.50 451.13 591.27 456.50 590.70 C461.87 590.13 470.67 589.12 473.50 588.80" stroke="#1a1af4" stroke-width="1.95"/>
</g>
<circle cx="209.40" cy="555.70" r="6.7" fill="#2810f0"/>
<circle cx="315.50" cy="623.90" r="6.7" fill="#10ff10"/>
<circle cx="324.80" cy="629.00" r="6.7" fill="#ff0a0a"/>
<line x1="78.90" y1="713.70" x2="473.50" y2="713.70" stroke="#000" stroke-width="1.4" stroke-dasharray="1.4 2.49"/>
<line x1="78.90" y1="666.90" x2="473.50" y2="666.90" stroke="#000" stroke-width="1.4" stroke-dasharray="1.4 2.49"/>
<line x1="78.90" y1="620.10" x2="473.50" y2="620.10" stroke="#000" stroke-width="1.4" stroke-dasharray="1.4 2.49"/>
<line x1="78.90" y1="573.30" x2="473.50" y2="573.30" stroke="#000" stroke-width="1.4" stroke-dasharray="1.4 2.49"/>
<rect x="79.30" y="514.90" width="394.20" height="245.60" fill="none" stroke="#333" stroke-width="0.65"/>
<path d="M79.00 514.90 v5.20 M79.00 760.50 v-5.20 M98.72 514.90 v2.90 M98.72 760.50 v-2.90 M118.45 514.90 v2.90 M118.45 760.50 v-2.90 M138.18 514.90 v2.90 M138.18 760.50 v-2.90 M157.90 514.90 v2.90 M157.90 760.50 v-2.90 M177.62 514.90 v5.20 M177.62 760.50 v-5.20 M197.35 514.90 v2.90 M197.35 760.50 v-2.90 M217.07 514.90 v2.90 M217.07 760.50 v-2.90 M236.80 514.90 v2.90 M236.80 760.50 v-2.90 M256.52 514.90 v2.90 M256.52 760.50 v-2.90 M276.25 514.90 v5.20 M276.25 760.50 v-5.20 M295.98 514.90 v2.90 M295.98 760.50 v-2.90 M315.70 514.90 v2.90 M315.70 760.50 v-2.90 M335.43 514.90 v2.90 M335.43 760.50 v-2.90 M355.15 514.90 v2.90 M355.15 760.50 v-2.90 M374.88 514.90 v5.20 M374.88 760.50 v-5.20 M394.60 514.90 v2.90 M394.60 760.50 v-2.90 M414.32 514.90 v2.90 M414.32 760.50 v-2.90 M434.05 514.90 v2.90 M434.05 760.50 v-2.90 M453.77 514.90 v2.90 M453.77 760.50 v-2.90 M473.50 514.90 v5.20 M473.50 760.50 v-5.20 M79.00 760.50 h7.90 M473.50 760.50 h-7.90 M79.00 748.80 h4.00 M473.50 748.80 h-4.00 M79.00 737.10 h4.00 M473.50 737.10 h-4.00 M79.00 725.40 h4.00 M473.50 725.40 h-4.00 M79.00 713.70 h7.90 M473.50 713.70 h-7.90 M79.00 702.00 h4.00 M473.50 702.00 h-4.00 M79.00 690.30 h4.00 M473.50 690.30 h-4.00 M79.00 678.60 h4.00 M473.50 678.60 h-4.00 M79.00 666.90 h7.90 M473.50 666.90 h-7.90 M79.00 655.20 h4.00 M473.50 655.20 h-4.00 M79.00 643.50 h4.00 M473.50 643.50 h-4.00 M79.00 631.80 h4.00 M473.50 631.80 h-4.00 M79.00 620.10 h7.90 M473.50 620.10 h-7.90 M79.00 608.40 h4.00 M473.50 608.40 h-4.00 M79.00 596.70 h4.00 M473.50 596.70 h-4.00 M79.00 585.00 h4.00 M473.50 585.00 h-4.00 M79.00 573.30 h7.90 M473.50 573.30 h-7.90 M79.00 561.60 h4.00 M473.50 561.60 h-4.00 M79.00 549.90 h4.00 M473.50 549.90 h-4.00 M79.00 538.20 h4.00 M473.50 538.20 h-4.00 M79.00 526.50 h7.90 M473.50 526.50 h-7.90" stroke="#333" stroke-width="0.65" fill="none"/>
<text x="48.30" y="760.80" textLength="25.6" lengthAdjust="spacingAndGlyphs" class="t">0.0</text>
<text x="48.30" y="720.60" textLength="25.6" lengthAdjust="spacingAndGlyphs" class="t">0.2</text>
<text x="48.30" y="673.80" textLength="25.6" lengthAdjust="spacingAndGlyphs" class="t">0.4</text>
<text x="48.30" y="627.00" textLength="25.6" lengthAdjust="spacingAndGlyphs" class="t">0.6</text>
<text x="48.30" y="580.20" textLength="25.6" lengthAdjust="spacingAndGlyphs" class="t">0.8</text>
<text x="50.30" y="533.40" textLength="23.6" lengthAdjust="spacingAndGlyphs" class="t">1.0</text>
<g transform="translate(35,687.50) rotate(-90)">
<text x="-0.3" y="0" class="t" textLength="40.6" lengthAdjust="spacingAndGlyphs">Mass</text>
<line x1="49.6" y1="3.3" x2="60.5" y2="-12" stroke="#000" stroke-width="1.15"/>
<text x="67.6" y="0" class="t" textLength="15.2" lengthAdjust="spacingAndGlyphs">M</text>
<text x="81.6" y="5.6" class="sb" textLength="26.6" lengthAdjust="spacingAndGlyphs">gas,0</text>
</g>
<text x="358.80" y="552.40" class="q">q</text>
<text x="371.20" y="557.60" class="eos" textLength="25.3" lengthAdjust="spacingAndGlyphs">EOS</text>
<path d="M398.40 545.00 h11.8 M398.40 549.00 h11.8" stroke="#000" stroke-width="1.3" fill="none"/>
<text x="411.40" y="552.70" class="qn" textLength="44.2" lengthAdjust="spacingAndGlyphs">0.01</text>
<text x="65.60" y="784.2" textLength="25.6" lengthAdjust="spacingAndGlyphs" class="t">0.0</text>
<text x="164.22" y="784.2" textLength="25.6" lengthAdjust="spacingAndGlyphs" class="t">0.5</text>
<text x="263.85" y="784.2" textLength="23.6" lengthAdjust="spacingAndGlyphs" class="t">1.0</text>
<text x="362.57" y="784.2" textLength="23.4" lengthAdjust="spacingAndGlyphs" class="t">1.5</text>
<text x="460.10" y="784.2" textLength="25.6" lengthAdjust="spacingAndGlyphs" class="t">2.0</text>
<text x="225.4" y="804.3" class="t" textLength="40.0" lengthAdjust="spacingAndGlyphs">Time</text>
<text x="283.0" y="804.3" class="t" textLength="43.8" lengthAdjust="spacingAndGlyphs">[Gyr]</text>
<text x="95.2" y="679.60" class="rl" textLength="100.6" lengthAdjust="spacingAndGlyphs" fill="#000" stroke="#000" stroke-width="3.8">star-forming</text>
<text x="95.2" y="679.60" class="rl" textLength="100.6" lengthAdjust="spacingAndGlyphs" fill="#FFAA00" stroke="#FFAA00" stroke-width="0.5">star-forming</text>
<text x="95.2" y="736.00" class="rl" textLength="141.2" lengthAdjust="spacingAndGlyphs" fill="#000" stroke="#000" stroke-width="3.8">non-star-forming</text>
<text x="95.2" y="736.00" class="rl" textLength="141.2" lengthAdjust="spacingAndGlyphs" fill="#00DDFF" stroke="#00DDFF" stroke-width="0.5">non-star-forming</text>
</svg>
</body></html>
